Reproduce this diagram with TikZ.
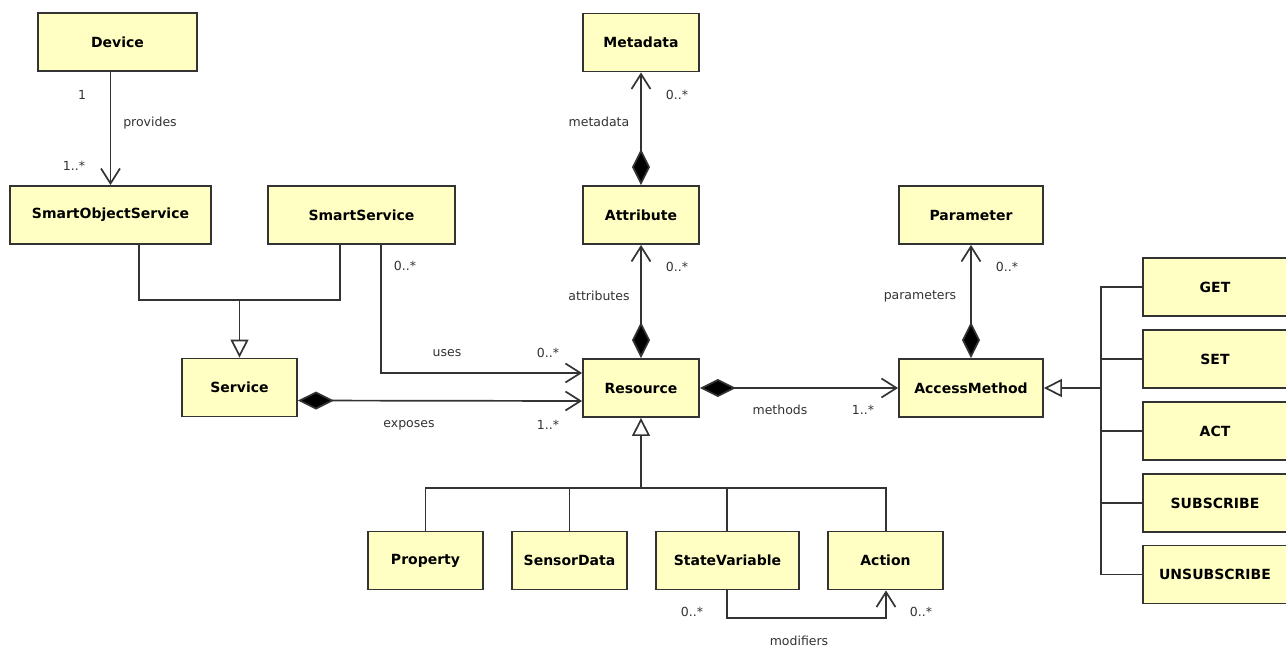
\documentclass[tikz,border=0pt]{standalone}
\usepackage{fontspec}
\setmainfont{DejaVu Sans}
\usetikzlibrary{arrows.meta}
\definecolor{boxfill}{HTML}{FFFFC4}
\definecolor{edge}{HTML}{333333}
\definecolor{lbltext}{HTML}{333333}
\begin{document}
\begin{tikzpicture}[x=1pt,y=-1pt,
  cls/.style={draw=edge, fill=boxfill, line width=1.9pt, minimum height=58pt,
    inner sep=0pt, font=\fontsize{14}{16}\selectfont\bfseries, text=black},
  lbl/.style={font=\fontsize{12.5}{14}\selectfont, text=lbltext, inner sep=0pt},
  conn/.style={draw=edge, line width=1.7pt},
  nav/.style={conn, -{Straight Barb[length=15pt,width=19pt,line width=1.7pt]}},
  comp/.style={conn, {Diamond[length=36pt,width=18pt,fill=black]}-{Straight Barb[length=15pt,width=19pt,line width=1.7pt]}},
  gen/.style={conn, -{Triangle[open,length=18pt,width=18pt,fill=white,line width=1.7pt]}}
]
\useasboundingbox (0,0) rectangle (1286,648);
\fill[white] (0,0) rectangle (1286,648);

% classes
\node[cls, minimum width=159pt] (device) at (117.5,42) {Device};
\node[cls, minimum width=201pt] (sos) at (110.5,215) {SmartObjectService};
\node[cls, minimum width=187pt] (smsvc) at (361.5,215) {SmartService};
\node[cls, minimum width=115pt] (service) at (239.5,387.5) {Service};
\node[cls, minimum width=116pt] (metadata) at (641,42.5) {Metadata};
\node[cls, minimum width=116pt] (attribute) at (641,215) {Attribute};
\node[cls, minimum width=116pt] (resource) at (641,388) {Resource};
\node[cls, minimum width=144pt] (parameter) at (971,215) {Parameter};
\node[cls, minimum width=144pt] (access) at (971,388) {AccessMethod};
\node[cls, minimum width=144pt] (get) at (1215,287) {GET};
\node[cls, minimum width=144pt] (set) at (1215,359) {SET};
\node[cls, minimum width=144pt] (act) at (1215,431) {ACT};
\node[cls, minimum width=144pt] (sub) at (1215,503) {SUBSCRIBE};
\node[cls, minimum width=144pt] (unsub) at (1215,574.5) {UNSUBSCRIBE};
\node[cls, minimum width=115pt] (property) at (425.5,560.5) {Property};
\node[cls, minimum width=115pt] (sensor) at (569.5,560.5) {SensorData};
\node[cls, minimum width=143pt] (statevar) at (727.5,560.5) {StateVariable};
\node[cls, minimum width=115pt] (action) at (885.5,560.5) {Action};

% join points of the generalization trees
\coordinate (svcjoin) at (239.5,300);
\coordinate (resjoin) at (641,488);
\coordinate (amjoin) at (1101,388);
\coordinate (modcorner) at (727,618);

% Device provides SmartObjectService
\draw[nav] (sos.north |- device.south) -- (sos.north);
\node[lbl] (l1) at (82,95) {1};
\node[lbl] (lprov) at (150,123) {provides};
\node[lbl] (l1s) at (74,166) {1..*};

% SmartObjectService and SmartService specialise Service
\draw[conn] ([xshift=28.5pt]sos.south) |- (svcjoin);
\draw[conn] ([xshift=-21.5pt]smsvc.south) |- (svcjoin);
\draw[gen] (svcjoin) -- (service.north);

% SmartService uses Resource
\draw[nav] ([xshift=19.5pt]smsvc.south) |- ([yshift=15pt]resource.west);
\node[lbl] (lss) at (405,266) {0..*};
\node[lbl] (luses) at (447,353) {uses};
\node[lbl] (lusem) at (548,353) {0..*};

% Service exposes Resource
\draw[comp] ([yshift=-13pt]service.east) -- ([yshift=-13pt]resource.west);
\node[lbl] (lexp) at (409,425) {exposes};
\node[lbl] (lexpm) at (548,425) {1..*};

% Attribute has Metadata
\draw[comp] (attribute.north) -- (metadata.south);
\node[lbl] (lmeta) at (599,122) {metadata};
\node[lbl] (lmetam) at (677,95) {0..*};

% Resource has Attributes
\draw[comp] (resource.north) -- (attribute.south);
\node[lbl] (lattr) at (599,296) {attributes};
\node[lbl] (lattrm) at (677,267) {0..*};

% Resource has AccessMethods
\draw[comp] (resource.east) -- (access.west);
\node[lbl] (lmeth) at (780,410) {methods};
\node[lbl] (lmethm) at (863,410) {1..*};

% AccessMethod has Parameters
\draw[comp] (access.north) -- (parameter.south);
\node[lbl] (lpar) at (920,296) {parameters};
\node[lbl] (lparm) at (1007,267) {0..*};

% kinds of AccessMethod
\draw[conn] (get.west) -| (amjoin);
\draw[conn] (set.west) -| (amjoin);
\draw[conn] (act.west) -| (amjoin);
\draw[conn] (sub.west) -| (amjoin);
\draw[conn] (unsub.west) -| (amjoin);
\draw[gen] (amjoin) -- (access.east);

% kinds of Resource
\draw[conn] (property.north) |- (resjoin);
\draw[conn] (sensor.north) |- (resjoin);
\draw[conn] ([xshift=-0.5pt]statevar.north) |- (resjoin);
\draw[conn] ([xshift=0.5pt]action.north) |- (resjoin);
\draw[gen] (resjoin) -- (resource.south);

% StateVariable modifiers Action
\draw[nav] ([xshift=-0.5pt]statevar.south) -- (modcorner) -| ([xshift=0.5pt]action.south);
\node[lbl] (lmodl) at (692,612) {0..*};
\node[lbl] (lmodr) at (921,612) {0..*};
\node[lbl] (lmod) at (799,641) {modifiers};
\end{tikzpicture}
\end{document}
